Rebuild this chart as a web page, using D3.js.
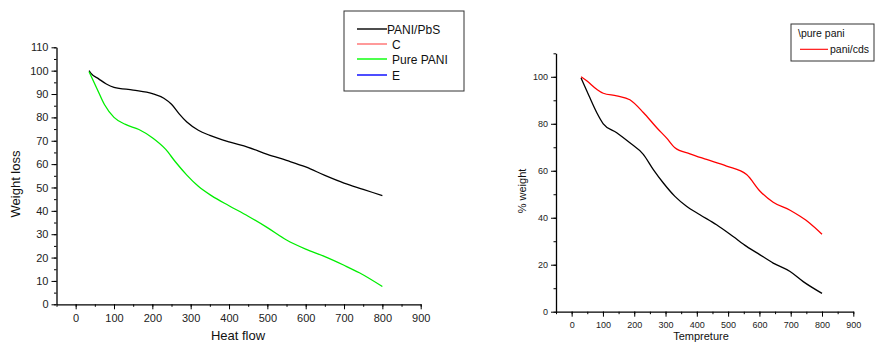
<!DOCTYPE html>
<html>
<head>
<meta charset="utf-8">
<script src="https://cdn.jsdelivr.net/npm/d3@7"></script>
<style>
  body { margin: 0; background: #fff; }
  svg { display: block; font-family: "Liberation Sans", Arial, sans-serif; }
  .domain { stroke: #000; }
  .tick line { stroke: #000; }
</style>
</head>
<body>
<svg id="chart" width="875" height="343"></svg>
<script>
// left chart: PANI/PbS vs Pure PANI
const pbsTemp = [35, 40, 60, 80, 100, 150, 200, 230, 250, 270, 290, 320, 350, 400, 450, 500, 550, 600, 650, 700, 750, 800];
const pbsWeight = [100, 98.8, 96.5, 94.3, 92.9, 91.7, 90.2, 88.2, 85.6, 81.5, 78, 74.5, 72.3, 69.5, 67.2, 64.2, 61.6, 58.8, 55.2, 51.9, 49.2, 46.5];
const pureTemp = [35, 55, 75, 100, 130, 165, 200, 235, 260, 290, 320, 355, 400, 450, 500, 550, 600, 650, 700, 740, 800];
const pureWeight = [99.5, 92.5, 85.5, 80, 77, 74.8, 71.3, 66.3, 61, 55.3, 50.5, 46.4, 42.2, 37.7, 32.8, 27.5, 23.6, 20.4, 16.7, 13.5, 7.6];
const leftLegend = ["PANI/PbS", "C", "Pure PANI", "E"];
const leftLegendColors = ["#000", "#ff6f6f", "#00ff00", "#0000ff"];

// right chart: pure pani vs pani/cds
const cdsTemp = [30, 48, 80, 101, 144, 186, 229, 272, 303, 330, 378, 431, 495, 559, 602, 644, 698, 730, 761, 800];
const cdsWeight = [100, 98.3, 94.7, 93, 91.9, 90.2, 84.8, 78.3, 74, 69.8, 67.2, 64.8, 62, 58.4, 51.3, 46.6, 43.2, 40.6, 37.7, 33];
const paniTemp = [30, 55, 80, 101, 144, 186, 229, 261, 293, 330, 367, 410, 463, 516, 559, 602, 644, 698, 740, 800];
const paniWeight = [99.5, 92, 84.8, 80, 76.2, 71.9, 67, 60.5, 54.8, 49.1, 44.9, 41.3, 37, 32, 27.8, 24.2, 20.7, 17.1, 12.8, 7.8];

const xTicks = [0, 100, 200, 300, 400, 500, 600, 700, 800, 900];
const leftYTicks = [0, 10, 20, 30, 40, 50, 60, 70, 80, 90, 100, 110];
const rightYTicks = [0, 20, 40, 60, 80, 100];

const svg = d3.select("#chart");

function zip(xs, ys) { return xs.map((x, i) => [x, ys[i]]); }

function panel(opt) {
  let x = d3.scaleLinear().domain([-50, 900]).range([opt.left, opt.right]);
  let y = d3.scaleLinear().domain([0, 110]).range([opt.bottom, opt.top]);
  let g = svg.append("g");

  // minor ticks first
  g.append("g").attr("transform", "translate(0," + opt.bottom + ")")
    .call(d3.axisBottom(x).tickValues(d3.range(-50, 901, 50)).tickSize(2.5).tickFormat(""))
    .call(a => a.select(".domain").remove());
  g.append("g").attr("transform", "translate(" + opt.left + ",0)")
    .call(d3.axisLeft(y).tickValues(d3.range(0, 111, opt.minorY)).tickSize(2.5).tickFormat(""))
    .call(a => a.select(".domain").remove());

  let xa = g.append("g").attr("transform", "translate(0," + opt.bottom + ")")
    .call(d3.axisBottom(x).tickValues(xTicks).tickSize(5).tickSizeOuter(0).tickPadding(opt.pad));
  let ya = g.append("g").attr("transform", "translate(" + opt.left + ",0)")
    .call(d3.axisLeft(y).tickValues(opt.yTicks).tickSize(5).tickSizeOuter(0).tickPadding(3));
  [xa, ya].forEach(a => {
    a.selectAll("text").attr("font-size", opt.tickFont).attr("fill", "#222")
      .attr("font-family", "'Liberation Sans', Arial, sans-serif");
    a.select(".domain").attr("stroke-width", 1.3);
  });

  let line = d3.line().x(d => x(d[0])).y(d => y(d[1])).curve(d3.curveMonotoneX);
  opt.series.forEach(s => {
    g.append("path").datum(zip(s.xs, s.ys))
      .attr("fill", "none").attr("stroke", s.color).attr("stroke-width", 1.3)
      .attr("d", line);
  });

  g.append("text").attr("x", opt.xLabel[0]).attr("y", opt.xLabel[1])
    .attr("text-anchor", "middle").attr("font-size", opt.labelFont).attr("fill", "#111")
    .text(opt.xTitle);
  g.append("text").attr("transform", "translate(" + opt.yLabel[0] + "," + opt.yLabel[1] + ") rotate(-90)")
    .attr("text-anchor", "middle").attr("font-size", opt.labelFont).attr("fill", "#111")
    .text(opt.yTitle);
  return g;
}

panel({
  left: 56.5, right: 420.7, top: 47.3, bottom: 304.3,
  minorY: 5, yTicks: leftYTicks, tickFont: 11, labelFont: 13, pad: 5,
  xTitle: "Heat flow", yTitle: "Weight loss",
  xLabel: [238, 340], yLabel: [20, 184],
  series: [
    { xs: pbsTemp, ys: pbsWeight, color: "#000" },
    { xs: pureTemp, ys: pureWeight, color: "#00ee00" }
  ]
});

panel({
  left: 556, right: 853.3, top: 53.3, bottom: 311.7,
  minorY: 10, yTicks: rightYTicks, tickFont: 9, labelFont: 11, pad: 5,
  xTitle: "Tempreture", yTitle: "% weight",
  xLabel: [701, 339.5], yLabel: [526, 191],
  series: [
    { xs: cdsTemp, ys: cdsWeight, color: "#ff0000" },
    { xs: paniTemp, ys: paniWeight, color: "#000" }
  ]
});

// left legend
let lg = svg.append("g");
lg.append("rect").attr("x", 344).attr("y", 11).attr("width", 120).attr("height", 80)
  .attr("fill", "#fff").attr("stroke", "#333").attr("stroke-width", 1);
leftLegend.forEach((name, i) => {
  let yy = [29, 44, 59, 75][i];
  lg.append("line").attr("x1", 357).attr("x2", 387).attr("y1", yy).attr("y2", yy)
    .attr("stroke", leftLegendColors[i]).attr("stroke-width", 1.4);
  lg.append("text").attr("x", i === 0 ? 387 : 392).attr("y", yy + 4.5)
    .attr("font-size", 12).attr("fill", "#111").text(name);
});

// right legend
let rg = svg.append("g");
rg.append("rect").attr("x", 791).attr("y", 24).attr("width", 83).attr("height", 37)
  .attr("fill", "#fff").attr("stroke", "#333").attr("stroke-width", 1);
rg.append("text").attr("x", 798).attr("y", 37).attr("font-size", 10.5).attr("fill", "#111").text("\\pure pani");
rg.append("line").attr("x1", 800).attr("x2", 828).attr("y1", 49.3).attr("y2", 49.3)
  .attr("stroke", "#ff0000").attr("stroke-width", 1.1);
rg.append("text").attr("x", 830).attr("y", 53).attr("font-size", 10.5).attr("fill", "#111").text("pani/cds");
</script>
</body>
</html>
